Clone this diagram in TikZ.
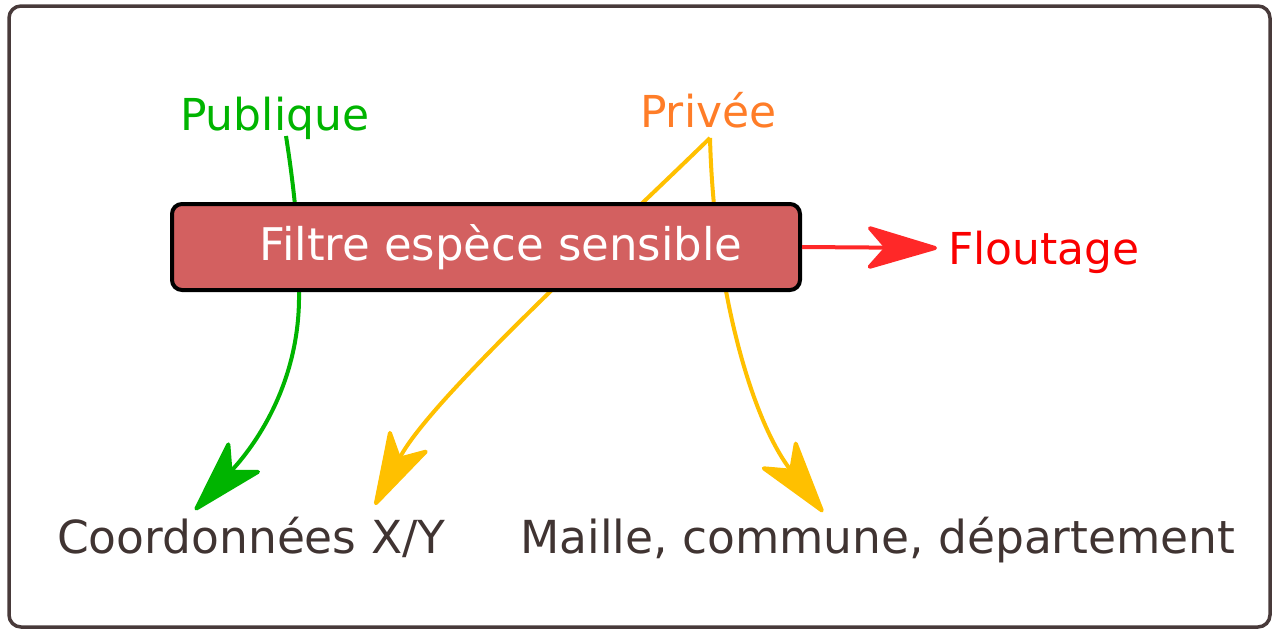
\documentclass[tikz,border=0pt]{standalone}
\usepackage{fontspec}
\setmainfont{DejaVu Sans}
\usetikzlibrary{arrows.meta}
\definecolor{framec}{RGB}{72,58,58}
\definecolor{boxfill}{RGB}{211,96,96}
\definecolor{pubgreen}{RGB}{0,180,0}
\definecolor{privorange}{RGB}{255,125,40}
\definecolor{yel}{RGB}{255,192,0}
\definecolor{flred}{RGB}{255,40,40}
\definecolor{fltext}{RGB}{250,0,0}
\definecolor{txt}{RGB}{64,52,50}
\begin{document}
\begin{tikzpicture}[x=1pt,y=-1pt,
  lbl/.style={font=\fontsize{44}{52}\selectfont, inner sep=0pt, anchor=base west},
  biglbl/.style={lbl, font=\fontsize{45.5}{54}\selectfont},
  conn/.style={line width=4pt, -{Stealth[length=82pt,width=48pt,inset=22pt,round=false]}},
  filterbox/.style={draw=black, line width=4pt, fill=boxfill, rounded corners=10pt,
    minimum width=628pt, minimum height=86pt, inner sep=0pt, text=white,
    font=\fontsize{45}{54}\selectfont}]
\useasboundingbox (0,0) rectangle (1280,632);
\draw[framec, line width=3.5pt, rounded corners=12pt] (9,6) rectangle (1270,627);

\node[lbl, text=pubgreen] (pub) at (180,130) {Publique};
\node[lbl, text=privorange] (priv) at (640,127) {Privée};
\node[lbl, text=fltext] (flou) at (948,264) {Floutage};
\node[biglbl, text=txt] (coord) at (57,553) {Coordonnées X/Y};
\node[biglbl, text=txt] (maille) at (520,553) {Maille, commune, département};

\coordinate (pubS) at (286,136);
\coordinate (privS) at (710,138);
\coordinate (coordT) at (195,510);
\coordinate (xyT) at (375,505);
\coordinate (mailleT) at (823,512);
\coordinate (flouT) at (937,248);

\draw[conn, pubgreen] (pubS) .. controls (296,200) and (300,250) .. (299,300)
  .. controls (298,380) and (260,440) .. (coordT);
\draw[conn, yel] (privS) .. controls (600,245) and (430,400) .. (xyT);
\draw[conn, yel] (privS) .. controls (714,290) and (752,420) .. (mailleT);

\node[filterbox] (filt) at (486,247) {\raisebox{3.5pt}{\hspace*{30pt}Filtre espèce sensible}};

\draw[line width=4pt, flred, -{Stealth[length=78pt,width=46pt,inset=20pt,round=false]}] (filt.east) -- (flouT);
\end{tikzpicture}
\end{document}
